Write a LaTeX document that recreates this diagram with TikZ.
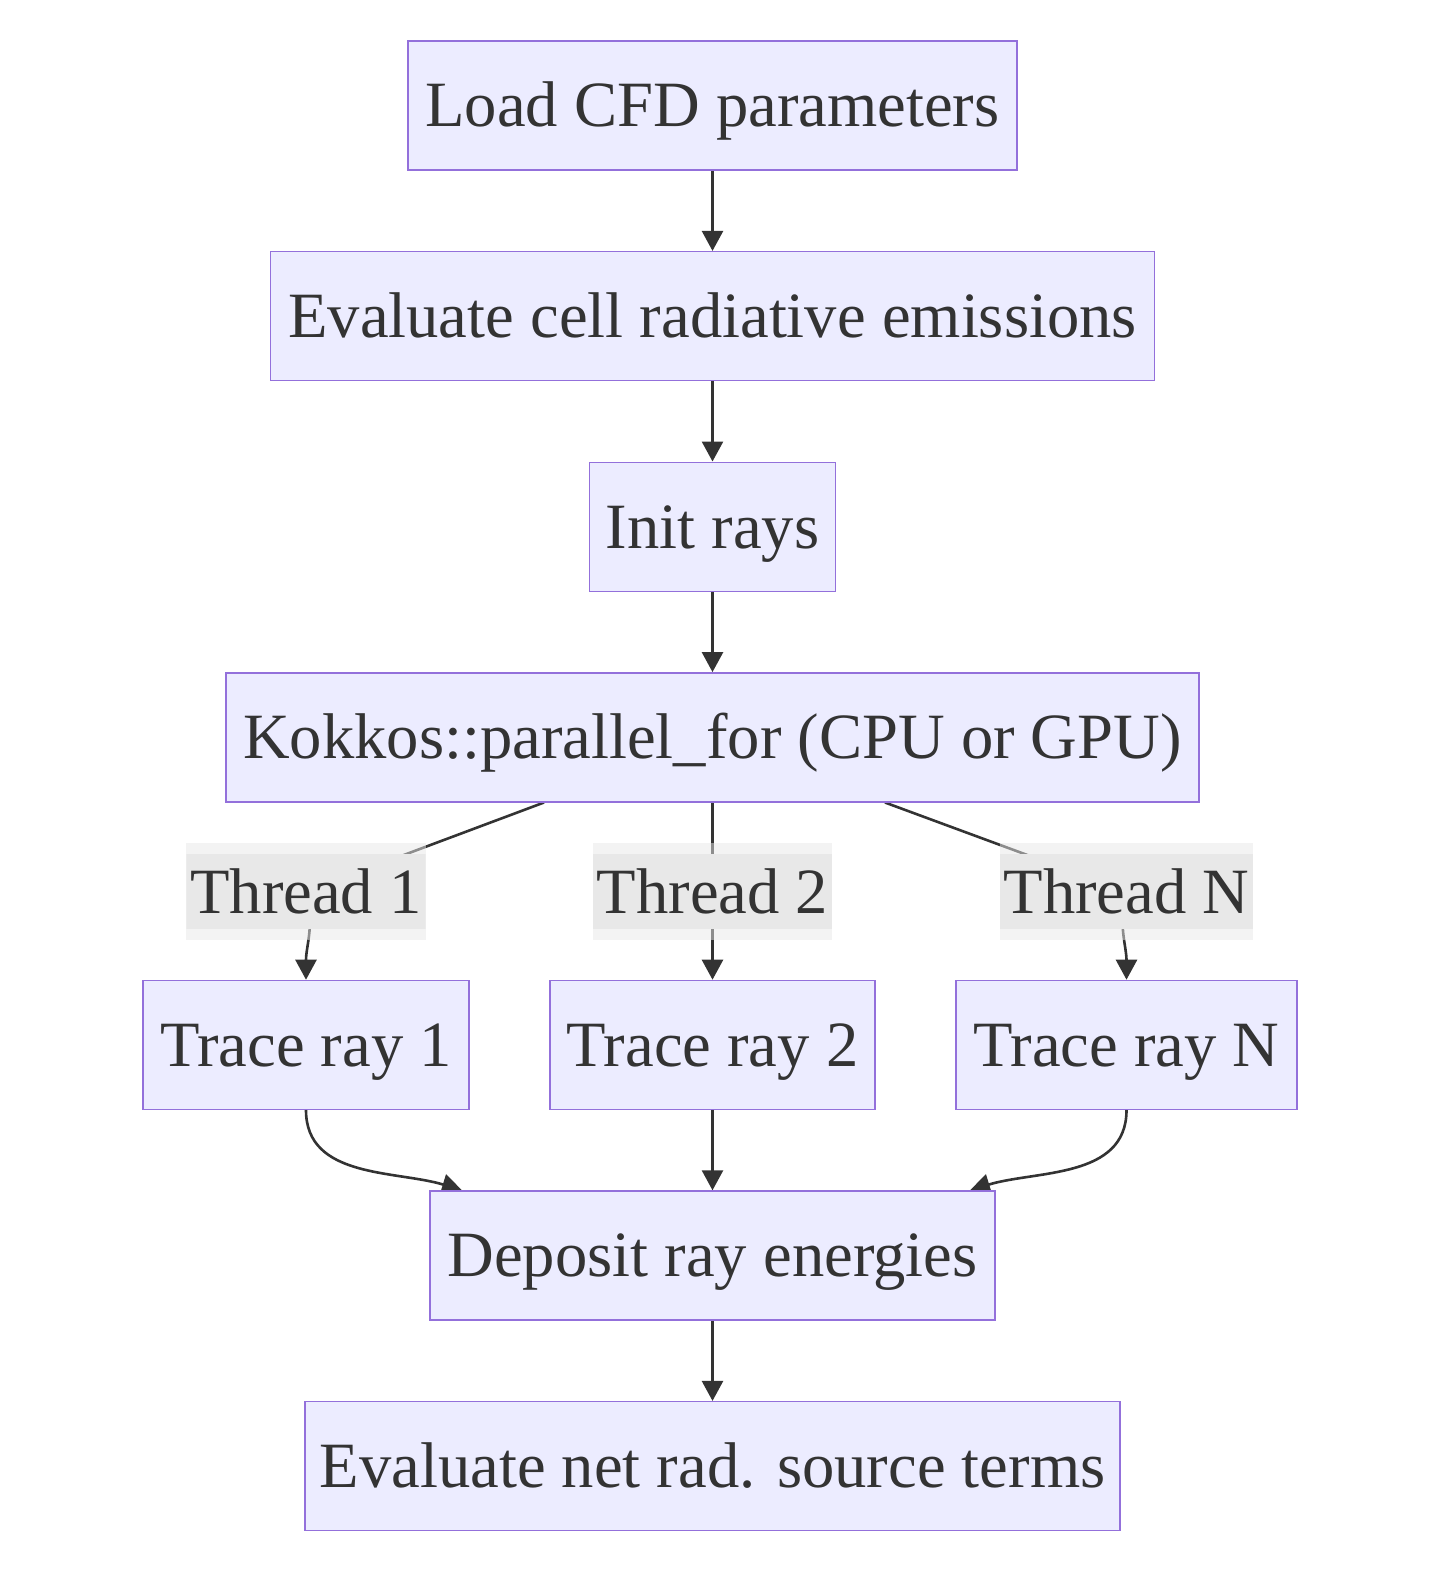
\documentclass[tikz,border=0pt]{standalone}
\usepackage{fontspec}
\setmainfont{Liberation Serif}
\usepackage{tikz}
\usetikzlibrary{arrows.meta}
\usetikzlibrary{positioning}
\usetikzlibrary{backgrounds}
\definecolor{boxfill}{HTML}{ECECFF}
\definecolor{boxline}{HTML}{9370DB}
\definecolor{ink}{HTML}{333333}
\definecolor{lblgray}{HTML}{E8E8E8}
\tikzset{auto, >={Triangle[length=10pt,width=10.5pt]}, x=0.5pt, y=-0.5pt, node distance=40.1pt, font=\fontsize{32.3}{38}\selectfont}
\tikzstyle{block} = [draw=boxline, line width=0.7pt, fill=boxfill, text=ink, rectangle, minimum height=64.5pt, inner xsep=4pt, text height=29.1pt, text depth=7.7pt, align=center]
\tikzstyle{lbl} = [fill=lblgray, fill opacity=0.5, text opacity=1, text=ink, rectangle, minimum height=48.5pt, inner xsep=2pt, inner ysep=0pt, text height=29.1pt, text depth=7.7pt, path picture={\fill[lblgray, fill opacity=1] ([yshift=-5.5pt]path picture bounding box.north west) rectangle ([yshift=5.5pt]path picture bounding box.south east);}]
\tikzstyle{link} = [draw=ink, line width=1.3pt]
\tikzstyle{flow} = [link, ->]

\begin{document}
\begin{tikzpicture}
		\useasboundingbox (0,0) rectangle (1430,1580);

		\node [block, minimum width=304.5pt] (load) at (712.5,105.5) {Load CFD parameters};
		\node [block, minimum width=442pt, below=of load] (eval) {Evaluate cell radiative emissions};
		\node [block, minimum width=123pt, below=of eval] (init) {Init rays};
		\node [block, minimum width=486.5pt, below=of init] (kokkos) {Kokkos::parallel\_for (CPU or GPU)};

		\node [lbl, below=20.1pt of kokkos] (t2lbl) {Thread 2};
		\node [block, minimum width=162.5pt, below=19.6pt of t2lbl] (trace2) {Trace ray 2};
		\node [block, minimum width=163pt, left=39.8pt of trace2] (trace1) {Trace ray 1};
		\node [block, minimum width=170.5pt, right=39.8pt of trace2] (traceN) {Trace ray N};
		\node [lbl] (t1lbl) at (trace1 |- t2lbl) {Thread 1};
		\node [lbl] (tNlbl) at (traceN |- t2lbl) {Thread N};

		\node [block, minimum width=282.5pt, below=of trace2] (deposit) {Deposit ray energies};
		\node [block, minimum width=407.5pt, below=of deposit] (net) {Evaluate net rad. source terms};

		\begin{scope}[on background layer]
		\draw [flow] (load) -- (eval);
		\draw [flow] (eval) -- (init);
		\draw [flow] (init) -- (kokkos);

		\draw [link] ([xshift=-84.25pt]kokkos.south) -- (t1lbl.center);
		\draw [flow] (t1lbl.center) to[out=-75, in=90] (trace1);
		\draw [link] (kokkos) -- (t2lbl.center);
		\draw [flow] (t2lbl.center) -- (trace2);
		\draw [link] ([xshift=86.25pt]kokkos.south) -- (tNlbl.center);
		\draw [flow] (tNlbl.center) to[out=-105, in=90] (traceN);

		\draw [flow] (trace1) to[out=-90, in=163] ([xshift=-125.25pt]deposit.north);
		\draw [flow] (trace2) -- (deposit);
		\draw [flow] (traceN) to[out=-90, in=17] ([xshift=128.75pt]deposit.north);
		\draw [flow] (deposit) -- (net);
		\end{scope}
	\end{tikzpicture}
\end{document}
